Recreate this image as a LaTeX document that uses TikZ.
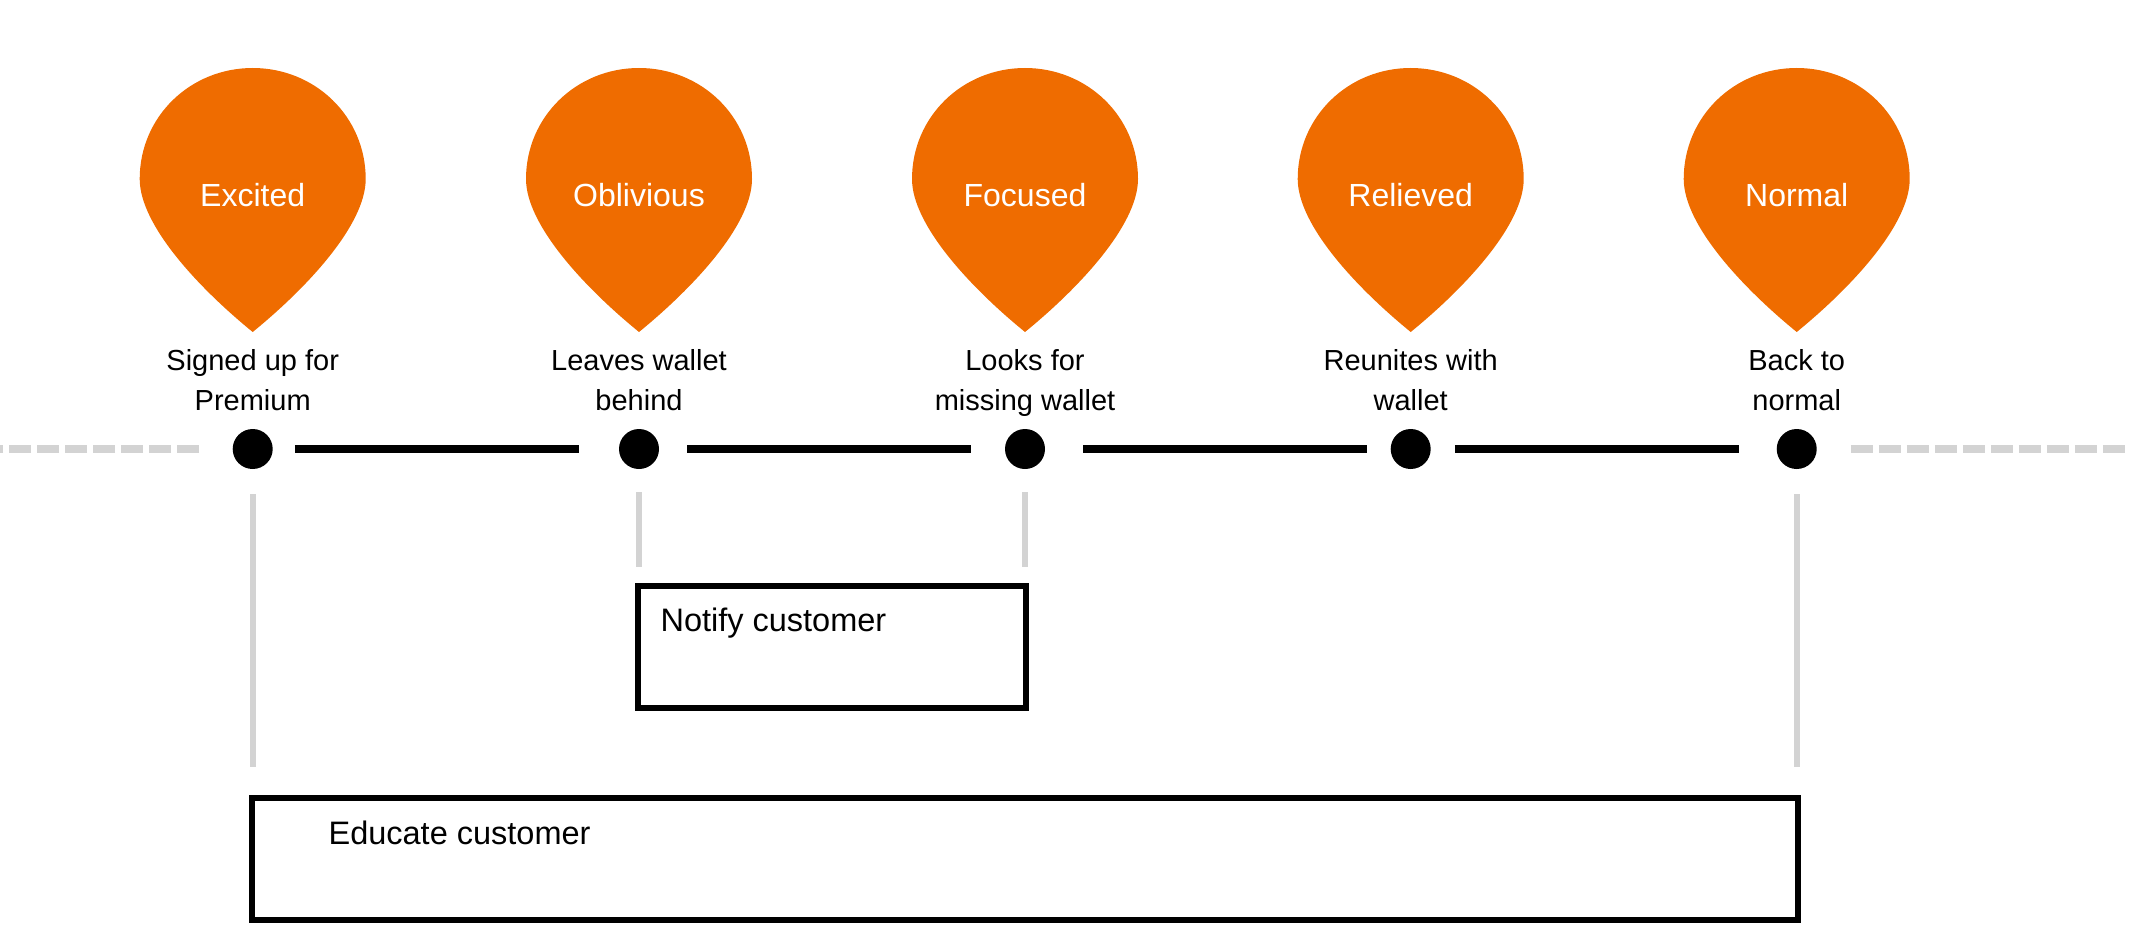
\documentclass[tikz,border=0pt]{standalone}
\usepackage{fontspec}
\setmainfont{Liberation Sans}
\usetikzlibrary{positioning}
\definecolor{pinorange}{RGB}{239,108,0}
\definecolor{railgray}{RGB}{211,211,211}

\begin{document}
\begin{tikzpicture}[x=1pt, y=-1pt,
	droppin/.pic={\fill[pinorange] (0,332) .. controls (-54,288) and (-113,225) .. (-113,179)
		.. controls (-113,116.6) and (-62.4,68) .. (0,68) .. controls (62.4,68) and (113,116.6) .. (113,179)
		.. controls (113,225) and (54,288) .. (0,332) -- cycle;},
	mood/.style={text=white, font=\fontsize{32}{38}\selectfont, anchor=base},
	event/.style={align=center, font=\fontsize{29}{39.3}\selectfont, anchor=base},
	stopdot/.style={circle, fill=black, inner sep=0pt, minimum size=40pt},
	rail/.style={line width=8pt},
	railout/.style={railgray, line width=7.5pt, dash pattern=on 22pt off 6pt},
	spanline/.style={railgray, line width=6pt},
	task/.style={draw, line width=6pt, inner sep=0pt},
	tasktext/.style={font=\fontsize{32.5}{39}\selectfont, anchor=base west}]
				\useasboundingbox (0,0) rectangle (2140,952);

				\pic at (252.7,0) {droppin};
				\pic at (639,0) {droppin};
				\pic at (1025,0) {droppin};
				\pic at (1410.7,0) {droppin};
				\pic at (1796.7,0) {droppin};

				\node[mood] (excited) at (252.7,207) {Excited};
				\node[mood] (oblivious) at (639,207) {Oblivious};
				\node[mood] (focused) at (1025,207) {Focused};
				\node[mood] (relieved) at (1410.7,207) {Relieved};
				\node[mood] (normal) at (1796.7,207) {Normal};

				% base anchor sits on the last line
				\node[event] (signed) at (252.7,410) {Signed up for\\Premium};
				\node[event] (leaves) at (639,410) {Leaves wallet\\behind};
				\node[event] (looks) at (1025,410) {Looks for\\missing wallet};
				\node[event] (reunites) at (1410.7,410) {Reunites with\\wallet};
				\node[event] (back) at (1796.7,410) {Back to\\normal};

				\node[stopdot] (d1) at (252.7,449) {};
				\node[stopdot] (d2) at (639,449) {};
				\node[stopdot] (d3) at (1025,449) {};
				\node[stopdot] (d4) at (1410.7,449) {};
				\node[stopdot] (d5) at (1796.7,449) {};

				\coordinate (lend) at (0,449);
				\coordinate (rend) at (2125,449);

				\draw[railout, shorten <=33.5pt] (d1) -- (lend);
				\draw[rail, shorten <=22pt, shorten >=40pt] (d1) -- (d2);
				\draw[rail, shorten <=28pt, shorten >=34pt] (d2) -- (d3);
				\draw[rail, shorten <=38pt, shorten >=24pt] (d3) -- (d4);
				\draw[rail, shorten <=24pt, shorten >=38pt] (d4) -- (d5);
				\draw[railout, shorten <=34pt] (d5) -- (rend);

				\node[task, minimum width=388pt, minimum height=122pt] (notify) at (832,647) {};
				\node[tasktext] (notifytxt) at ([shift={(22,48.5)}]notify.north west) {Notify customer};

				\node[task, minimum width=1545.7pt, minimum height=122pt] (educate) at (1024.9,859) {};
				\node[tasktext] (educatetxt) at ([shift={(76,49)}]educate.north west) {Educate customer};

				\draw[spanline, shorten <=23pt, shorten >=15.6pt] (d2) -- (d2 |- notify.north);
				\draw[spanline, shorten <=23pt, shorten >=15.6pt] (d3) -- (d3 |- notify.north);
				\draw[spanline, shorten <=25pt, shorten >=28pt] (d1) -- (d1 |- educate.north);
				\draw[spanline, shorten <=25pt, shorten >=28pt] (d5) -- (d5 |- educate.north);
\end{tikzpicture}
\end{document}
